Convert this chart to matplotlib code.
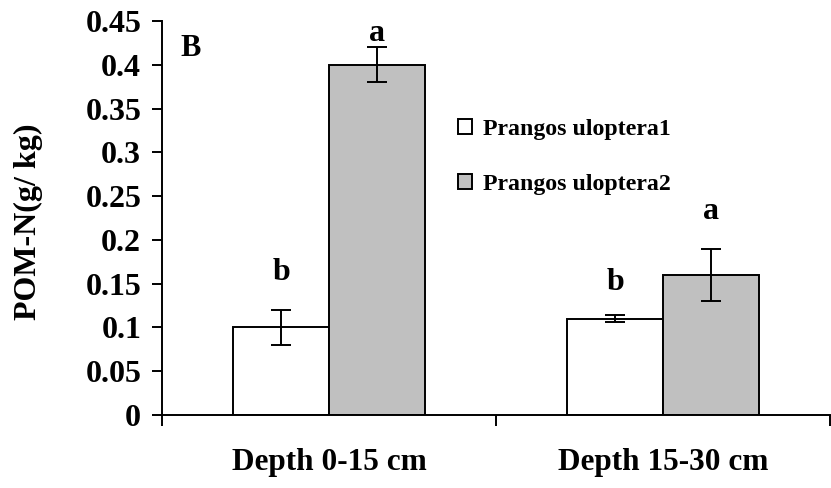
import matplotlib
matplotlib.use("Agg")
import matplotlib.pyplot as plt
import numpy as np
from matplotlib.ticker import FixedLocator

plt.rcParams.update({
    "font.family": "Liberation Serif",
    "font.weight": "bold",
    "axes.linewidth": 1.4,
})

depths = ["Depth 0-15 cm", "Depth 15-30 cm"]
series = ["Prangos uloptera1", "Prangos uloptera2"]
p1 = [0.10, 0.11]
p2 = [0.40, 0.16]
p1_err = [0.02, 0.004]
p2_err = [0.02, 0.03]
p1_letters = ["b", "b"]
p2_letters = ["a", "a"]
colors = ["white", "#c0c0c0"]

fig = plt.figure(figsize=(8.31, 4.88), dpi=100)
ax = fig.add_axes([0.195, 0.1496, 0.804, 0.8074])

x = np.arange(len(depths))
w = 0.287
ekw = dict(ecolor="black", elinewidth=1.4, capsize=7, capthick=1.4)
# letter heights
let_y = {0: [0.163, 0.151], 1: [0.436, 0.232]}
for k, (vals, errs, col, off, lab, lets) in enumerate([(p1, p1_err, colors[0], -w / 2, series[0], p1_letters),
                                                       (p2, p2_err, colors[1], w / 2, series[1], p2_letters)]):
    ax.bar(x + off, vals, w, yerr=errs, color=col, edgecolor="black", linewidth=1.4,
           label=lab, error_kw=ekw)
    for xi, yy, l in zip(x + off, let_y[k], lets):
        ax.text(xi, yy, l, ha="center", va="center", fontsize=23, fontweight="bold")

ax.set_xlim(-0.5, 1.5)
ax.set_ylim(0, 0.45)
ax.set_yticks(np.arange(0, 0.451, 0.05))
ax.set_yticklabels(["0", "0.05", "0.1", "0.15", "0.2", "0.25", "0.3", "0.35", "0.4", "0.45"])
ax.xaxis.set_major_locator(FixedLocator([-0.5, 0.5, 1.5]))
ax.xaxis.set_minor_locator(FixedLocator(list(x)))
ax.set_xticklabels([])
ax.set_xticklabels(depths, minor=True)
ax.tick_params(axis="x", which="major", direction="out", length=8, width=1.4)
ax.tick_params(axis="x", which="minor", length=0, pad=24, labelsize=22.5)
ax.tick_params(axis="y", direction="out", length=7, width=1.4, labelsize=23, pad=8)
ax.spines["top"].set_visible(False)
ax.spines["right"].set_visible(False)

ax.set_ylabel("POM-N(g/ kg)", fontsize=23, fontweight="bold")
ax.yaxis.set_label_coords(-0.178, 0.49)
ax.text(0.027, 0.93, "B", transform=ax.transAxes, fontsize=22, fontweight="bold",
        ha="left", va="center")

ax.legend(loc="upper left", bbox_to_anchor=(458 / 831, 1 - 119 / 488), bbox_transform=fig.transFigure,
          frameon=False, prop={"size": 17.2, "weight": "bold"}, handlelength=0.6, handleheight=0.6,
          handletextpad=0.45, labelspacing=1.42, borderpad=0, borderaxespad=0)

fig.savefig("out.png", dpi=100)
